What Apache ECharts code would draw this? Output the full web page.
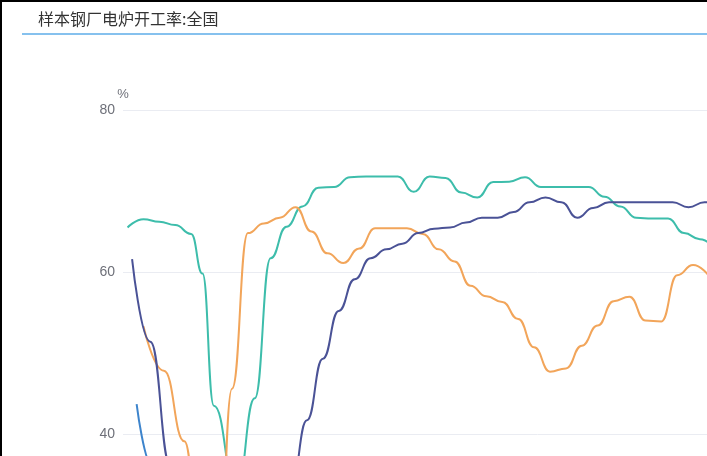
<!DOCTYPE html>
<html>
<head>
<meta charset="utf-8">
<script src="https://cdn.jsdelivr.net/npm/echarts@6/dist/echarts.min.js"></script>
<style>
  html, body { margin: 0; padding: 0; background: #fff; overflow: hidden; }
  #wrap { position: absolute; left: 0; top: 0; width: 1000px; height: 840px; border: 2px solid #000; background: #fff; }
  #chart { width: 1000px; height: 840px; }
</style>
</head>
<body>
<div id="wrap"><div id="chart"></div></div>
<script>
// Title and axis
const titleText = '样本钢厂电炉开工率:全国';
const yUnit = '%';
const yTicks = [0, 20, 40, 60, 80];

// Day-of-year positions (weekly observations) and values for each year
const daysA = [2,9,16,23,30,35,40,50,58,65,72,79,86,93,100,107,114,121,128,135,142,149,156,163,170,177,184,191,198,205,212,219,226,233,240,247,254,261];
const valuesA = [65.5,66.5,66.2,65.8,64.7,59.8,43.5,33,44.4,61.7,65.6,68.1,70.4,70.5,71.7,71.8,71.8,71.8,69.9,71.8,71.6,69.8,69.2,71.1,71.15,71.7,70.5,70.5,70.5,70.5,69.3,68.1,66.7,66.6,66.6,64.8,64.05,62.8];

const daysB = [9,18,27,34,41,48,55,62,69,76,83,90,97,104,111,118,125,132,139,146,153,160,167,174,181,188,195,202,209,216,223,230,237,244,251,258];
const valuesB = [53.3,47.8,39.1,26,12.5,45.6,64.8,66.0,66.7,68.0,65.0,62.3,61.1,62.9,65.4,65.4,65.4,64.7,62.8,61.3,58.3,57.0,56.3,54.2,50.7,47.7,48.1,50.9,53.4,56.4,56.95,54.0,53.9,59.6,60.85,59.5];

const daysC = [4,12,21,25,32,39,46,53,60,67,74,81,88,95,102,109,116,123,130,137,144,151,158,165,172,179,186,193,200,207,214,221,228,235,242,249,256,263];
const valuesC = [61.6,51.4,36,20,10,8,10,16,22,28,33.5,41.7,49.3,55.2,59.1,61.7,62.8,63.5,64.8,65.35,65.5,66.1,66.7,66.7,67.4,68.6,69.2,68.6,66.7,67.9,68.6,68.6,68.6,68.6,68.6,68.0,68.6,68.6];

const daysD = [6,13,20];
const valuesD = [43.7,36,30];

const seriesNames = ['2021', '2022', '2023', '2024'];
const seriesColors = ['#3dbdab', '#f2a55a', '#4a5296', '#3d84cc'];

function pairs(days, vals) { return days.map((d, i) => [d, vals[i]]); }

const chart = echarts.init(document.getElementById('chart'), null, { renderer: 'canvas' });
const datasets = [pairs(daysA, valuesA), pairs(daysB, valuesB), pairs(daysC, valuesC), pairs(daysD, valuesD)];

chart.setOption({
  animation: false,
  backgroundColor: '#fff',
  graphic: [
    { type: 'text', left: 36, top: 9, style: { text: titleText, font: '16px "Noto Sans CJK SC", sans-serif', fill: '#333' } },
    { type: 'rect', shape: { x: 20, y: 31, width: 1100, height: 2 }, style: { fill: '#86c1ee' } }
  ],
  grid: { left: 121, top: 108, width: 829, height: 648, containLabel: false },
  xAxis: {
    type: 'value', min: 0, max: 365, interval: 30,
    axisLine: { show: true, lineStyle: { color: '#ccc' } },
    splitLine: { show: false },
    axisLabel: { color: '#6e7079' }
  },
  yAxis: {
    type: 'value', min: yTicks[0], max: yTicks[yTicks.length - 1], interval: 20,
    name: yUnit, nameGap: 9,
    nameTextStyle: { color: '#6e7079', fontSize: 13, fontFamily: 'Liberation Sans, Arial, sans-serif' },
    axisLine: { show: false }, axisTick: { show: false },
    axisLabel: { color: '#6e7079', fontSize: 14, margin: 8, fontFamily: 'Liberation Sans, Arial, sans-serif' },
    splitLine: { lineStyle: { color: '#eaecf2', width: 1 } }
  },
  series: datasets.map((data, i) => ({
    name: seriesNames[i], type: 'line', data: data, smooth: true, smoothMonotone: 'x', showSymbol: false,
    lineStyle: { width: 2, color: seriesColors[i] }, itemStyle: { color: seriesColors[i] }
  }))
});
</script>
</body>
</html>
